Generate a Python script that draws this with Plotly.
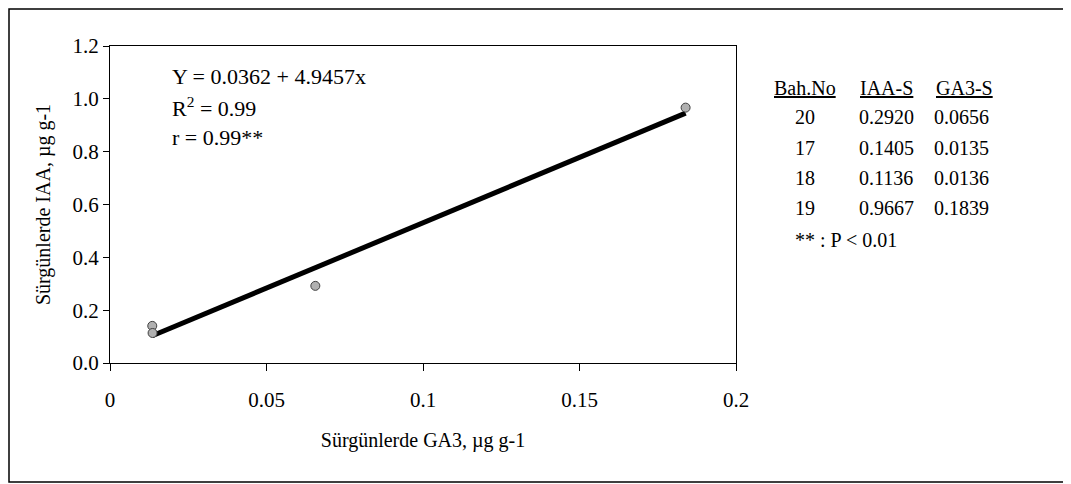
import plotly.graph_objects as go

# ---- data ----
bah_no = ["20", "17", "18", "19"]
iaa_s = [0.2920, 0.1405, 0.1136, 0.9667]   # Sürgünlerde IAA (y)
ga3_s = [0.0656, 0.0135, 0.0136, 0.1839]   # Sürgünlerde GA3 (x)
intercept = 0.0362
slope = 4.9457
x_ticks = [0, 0.05, 0.1, 0.15, 0.2]
x_ticktext = ["0", "0.05", "0.1", "0.15", "0.2"]
y_ticks = [0.0, 0.2, 0.4, 0.6, 0.8, 1.0, 1.2]
y_ticktext = ["0.0", "0.2", "0.4", "0.6", "0.8", "1.0", "1.2"]

OFF = 8  # browser body margin
W, H = 1071 - OFF, 484 - OFF
L, R, T, B = 110 - OFF, 736 - OFF, 46 - OFF, 363 - OFF
FONT = "Liberation Serif, Times New Roman, serif"
FS = 20

def px(x):
    return (x - OFF - L) / (R - L)

def py(y):
    return (B - (y - OFF)) / (B - T)

fig = go.Figure()

x_line = [min(ga3_s), max(ga3_s)]
y_line = [intercept + slope * v for v in x_line]
fig.add_trace(go.Scatter(x=x_line, y=y_line, mode="lines",
                         line=dict(color="black", width=5), showlegend=False,
                         hoverinfo="skip"))
fig.add_trace(go.Scatter(x=ga3_s, y=iaa_s, mode="markers",
                         marker=dict(symbol="circle", size=9, color="#b0b0b0",
                                     line=dict(color="#404040", width=1)),
                         showlegend=False))

annotations = []
eq_lines = [f"Y = {intercept:.4f} + {slope:.4f}x", "R<sup>2</sup> = 0.99", "r = 0.99**"]
for i, t in enumerate(eq_lines):
    annotations.append(dict(text=t, x=px(170), y=py(77 + 30 * i),
                            font=dict(family=FONT, size=22, color="black")))

# table
col_x = [772, 858, 934]
annotations += [
    dict(text="<u>Bah.No</u>", x=px(col_x[0]), y=py(88)),
    dict(text="<u>IAA-S</u>", x=px(col_x[1]), y=py(88)),
    dict(text="<u>GA3-S</u>", x=px(col_x[2]), y=py(88)),
]
for i, (b, ia, ga) in enumerate(zip(bah_no, iaa_s, ga3_s)):
    yy = py(117 + 30.5 * i)
    annotations += [
        dict(text=b, x=px(793), y=yy),
        dict(text=f"{ia:.4f}", x=px(857), y=yy),
        dict(text=f"{ga:.4f}", x=px(932), y=yy),
    ]
annotations.append(dict(text="** : P < 0.01", x=px(793), y=py(240)))
for a in annotations:
    a.setdefault("xref", "paper")
    a.setdefault("yref", "paper")
    a.setdefault("xanchor", "left")
    a.setdefault("yanchor", "middle")
    a.setdefault("showarrow", False)
    a.setdefault("font", dict(family=FONT, size=FS, color="black"))

shapes = [dict(type="rect", xref="paper", yref="paper",
               x0=(1 - L) / (R - L), x1=px(1067), y0=py(482), y1=(B - 1) / (B - T),
               line=dict(color="black", width=1.5))]

fig.update_layout(
    width=W, height=H,
    margin=dict(l=L, r=W - R, t=T, b=H - B),
    paper_bgcolor="white", plot_bgcolor="white",
    font=dict(family=FONT, size=FS, color="black"),
    annotations=annotations, shapes=shapes,
    xaxis=dict(range=[0, 0.2], tickvals=x_ticks, ticktext=x_ticktext,
               ticks="outside", ticklen=7, tickcolor="black",
               showline=True, linecolor="black", linewidth=1, mirror=True,
               showgrid=False, zeroline=False, ticklabelstandoff=11,
               tickfont=dict(family=FONT, size=21),
               title=dict(text="Sürgünlerde GA3, µg g-1", standoff=21,
                          font=dict(family=FONT, size=FS))),
    yaxis=dict(range=[0, 1.2], tickvals=y_ticks, ticktext=y_ticktext,
               ticks="outside", ticklen=6, tickcolor="black",
               showline=True, linecolor="black", linewidth=1, mirror=True,
               showgrid=False, zeroline=False,
               tickfont=dict(family=FONT, size=21),
               title=dict(text="Sürgünlerde IAA, µg g-1", standoff=16,
                          font=dict(family=FONT, size=FS))),
)

fig.write_html("out.html")
